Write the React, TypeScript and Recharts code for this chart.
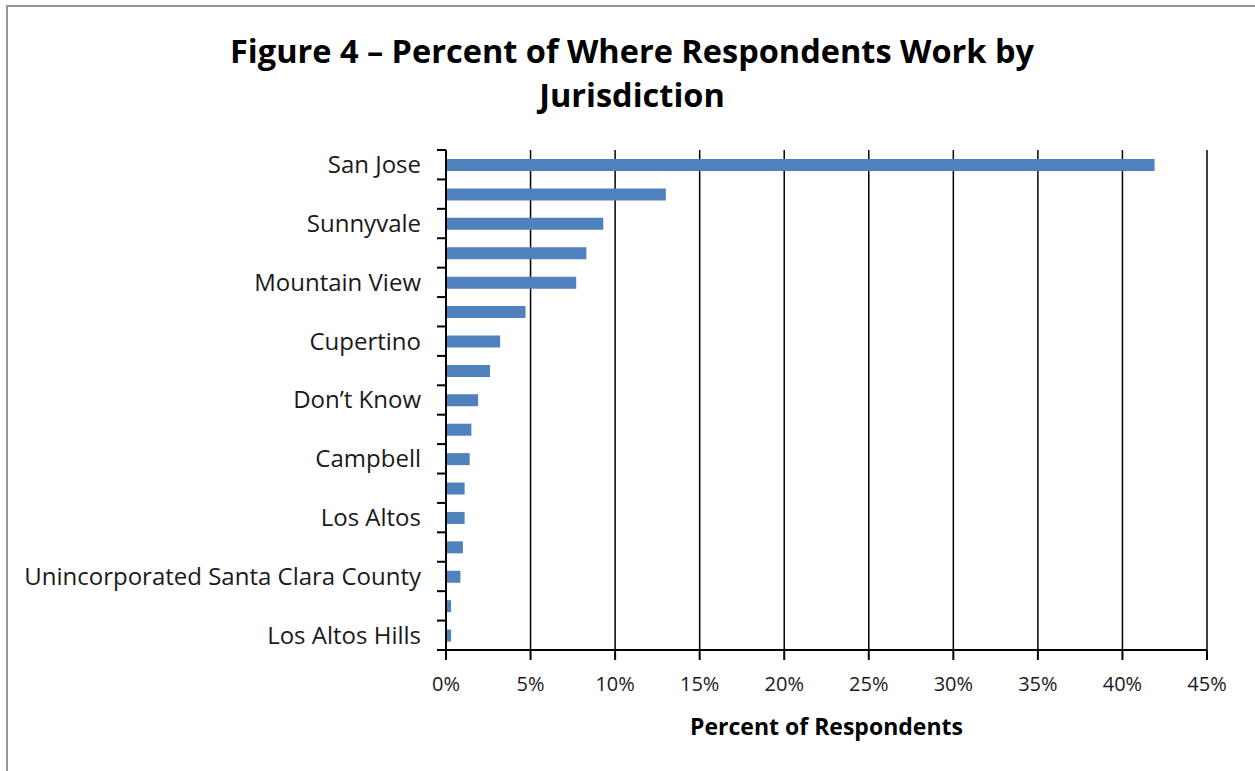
import { Bar, BarChart, CartesianGrid, XAxis, YAxis } from "recharts"

// jurisdictions, top to bottom (only every other name is printed on the axis)
const jurisdictions = [
  "San Jose",
  "Santa Clara",
  "Sunnyvale",
  "Palo Alto",
  "Mountain View",
  "Milpitas",
  "Cupertino",
  "Los Gatos",
  "Don’t Know",
  "Morgan Hill",
  "Campbell",
  "Gilroy",
  "Los Altos",
  "Saratoga",
  "Unincorporated Santa Clara County",
  "Monte Sereno",
  "Los Altos Hills",
]

// percent of respondents
const percents = [41.9, 13.0, 9.3, 8.3, 7.7, 4.7, 3.2, 2.6, 1.9, 1.5, 1.4, 1.1, 1.1, 1.0, 0.85, 0.3, 0.3]

const xTicks = [0, 5, 10, 15, 20, 25, 30, 35, 40, 45]

const data = jurisdictions.map((name, i) => ({ name, pct: percents[i] }))

const W = 1255
const H = 771
const MARGIN = { top: 150, right: 48, bottom: 31, left: 6 }
const Y_WIDTH = 440
const X_HEIGHT = 90
const PLOT_LEFT = MARGIN.left + Y_WIDTH
const PLOT_H = H - MARGIN.top - MARGIN.bottom - X_HEIGHT
const BAND = PLOT_H / jurisdictions.length
const FONT = "'Open Sans', Lato, sans-serif"

// Excel style: tick marks on category boundaries, label on every other row
const YTick = (props: any) => {
  const { y, payload, index } = props
  const half = BAND / 2
  const last = index === jurisdictions.length - 1
  return (
    <g>
      <line x1={PLOT_LEFT - 9} x2={PLOT_LEFT} y1={y - half} y2={y - half} stroke="#000" strokeWidth={2} />
      {last && <line x1={PLOT_LEFT - 9} x2={PLOT_LEFT} y1={y + half} y2={y + half} stroke="#000" strokeWidth={2} />}
      {index % 2 === 0 && (
        <text x={PLOT_LEFT - 25} y={y} dy="0.35em" textAnchor="end" fill="#1a1a1a" fontSize={24} fontFamily={FONT}>
          {payload.value}
        </text>
      )}
    </g>
  )
}

export default function App() {
  return (
    <div style={{ position: "fixed", left: 0, top: 0, width: W, height: H, overflow: "hidden", background: "#fff" }}>
      {/* chart frame, only top and left edges show in the crop */}
      <div
        style={{
          position: "absolute",
          left: 6,
          top: 5,
          width: W + 20,
          height: H + 20,
          borderTop: "2px solid #959595",
          borderLeft: "2px solid #959595",
        }}
      />
      <div
        style={{
          position: "absolute",
          left: 0,
          top: 29,
          width: 1264,
          textAlign: "center",
          fontFamily: FONT,
          fontWeight: 700,
          fontSize: 32.5,
          lineHeight: "44px",
          color: "#000",
        }}
      >
        Figure 4 – Percent of Where Respondents Work by
        <br />
        Jurisdiction
      </div>
      <div style={{ position: "absolute", left: 0, top: 0 }}>
        <BarChart width={W} height={H} data={data} layout="vertical" margin={MARGIN} barSize={12}>
          <CartesianGrid horizontal={false} stroke="#000" strokeWidth={1.5} />
          <XAxis
            type="number"
            domain={[0, 45]}
            ticks={xTicks}
            interval={0}
            tickFormatter={(v) => `${v}%`}
            height={X_HEIGHT}
            axisLine={{ stroke: "#000", strokeWidth: 2 }}
            tickLine={{ stroke: "#000", strokeWidth: 2 }}
            tickSize={10}
            tickMargin={17}
            tick={{ fill: "#1a1a1a", fontSize: 20, fontFamily: FONT }}
            label={{
              value: "Percent of Respondents",
              position: "insideBottom",
              offset: 5,
              fill: "#000",
              fontSize: 23,
              fontWeight: 700,
              fontFamily: FONT,
            }}
          />
          <YAxis
            type="category"
            dataKey="name"
            width={Y_WIDTH}
            interval={0}
            axisLine={{ stroke: "#000", strokeWidth: 2 }}
            tickLine={false}
            tick={YTick}
          />
          <Bar dataKey="pct" fill="#4f81bd" isAnimationActive={false} />
        </BarChart>
      </div>
    </div>
  )
}
